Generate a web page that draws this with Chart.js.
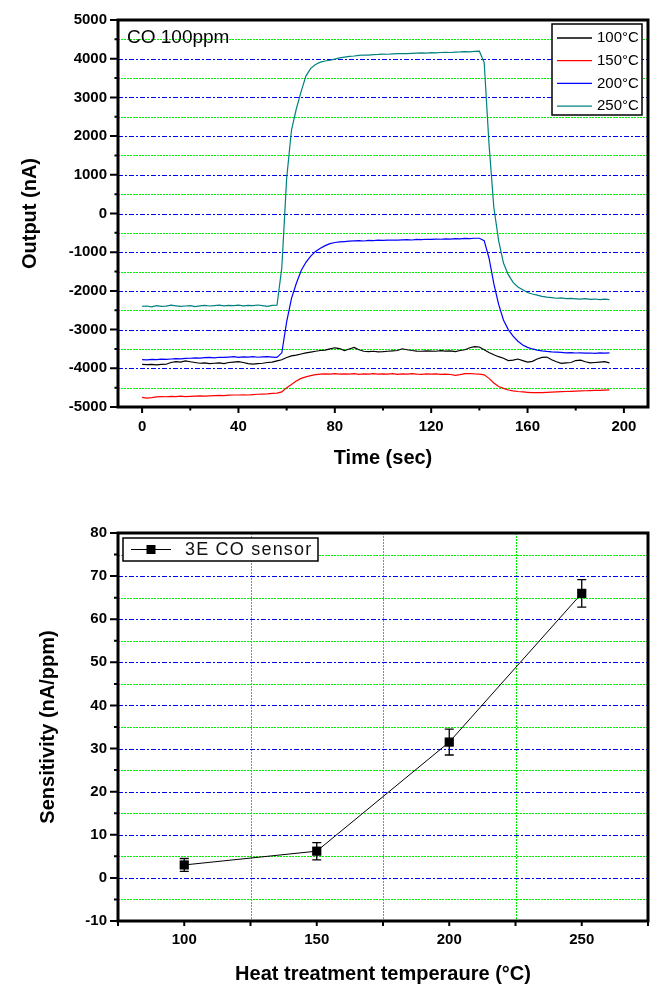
<!DOCTYPE html>
<html>
<head>
<meta charset="utf-8">
<script src="https://cdn.jsdelivr.net/npm/chart.js@4.4.0/dist/chart.umd.min.js"></script>
<style>
  body { margin: 0; background: #fff; }
  #outputChart { position: absolute; left: 0; top: 0; }
  #sensChart { position: absolute; left: 0; top: 500px; }
</style>
</head>
<body>
<canvas id="outputChart" width="663" height="490"></canvas>
<canvas id="sensChart" width="663" height="503"></canvas>
<script>
// ---- top chart: sensor output vs time ----
const times = [
  0, 2, 4, 6, 8, 10, 12, 14, 16, 18,
  20, 22, 24, 26, 28, 30, 32, 34, 36, 38,
  40, 42, 44, 46, 48, 50, 52, 54, 56, 58,
  60, 62, 64, 66, 68, 70, 72, 74, 76, 78,
  80, 82, 84, 86, 88, 90, 92, 94, 96, 98,
  100, 102, 104, 106, 108, 110, 112, 114, 116, 118,
  120, 122, 124, 126, 128, 130, 132, 134, 136, 138,
  140, 142, 144, 146, 148, 150, 152, 154, 156, 158,
  160, 162, 164, 166, 168, 170, 172, 174, 176, 178,
  180, 182, 184, 186, 188, 190, 192, 194,
];
const out100 = [
  -3900, -3905, -3900, -3910, -3900, -3895, -3850, -3830, -3840, -3810,
  -3830, -3850, -3870, -3860, -3880, -3870, -3860, -3880, -3850, -3840,
  -3830, -3850, -3880, -3890, -3880, -3870, -3850, -3840, -3810, -3780,
  -3720, -3680, -3660, -3630, -3600, -3580, -3560, -3540, -3530, -3500,
  -3470, -3490, -3540, -3500, -3460, -3520, -3560, -3570, -3560, -3575,
  -3570, -3560, -3550, -3540, -3495, -3520, -3540, -3555, -3560, -3550,
  -3555, -3560, -3545, -3555, -3550, -3570, -3540, -3520, -3470, -3440,
  -3450, -3520, -3590, -3650, -3700, -3740, -3800, -3790, -3760, -3800,
  -3840, -3820, -3760, -3720, -3710, -3780, -3830, -3870, -3860, -3850,
  -3800, -3790, -3830, -3860, -3850, -3840, -3830, -3860,
];
const out150 = [
  -4750, -4770, -4760, -4740, -4730, -4735, -4725, -4730, -4720, -4730,
  -4725, -4720, -4715, -4720, -4710, -4705, -4700, -4705, -4695, -4690,
  -4690, -4685, -4690, -4680, -4670, -4665, -4660, -4650, -4640, -4610,
  -4500, -4420, -4330, -4260, -4220, -4190, -4165, -4150, -4145, -4150,
  -4140, -4150, -4145, -4150, -4140, -4155, -4145, -4150, -4140, -4150,
  -4145, -4150, -4140, -4155, -4145, -4150, -4140, -4150, -4155, -4145,
  -4150, -4145, -4155, -4150, -4160, -4185, -4165, -4140, -4135, -4145,
  -4150, -4170, -4260, -4380, -4470, -4520, -4560, -4585, -4600, -4610,
  -4620, -4630, -4625, -4630, -4620, -4615, -4610, -4605, -4600, -4595,
  -4590, -4585, -4580, -4575, -4570, -4570, -4565, -4560,
];
const out200 = [
  -3775, -3780, -3770, -3775, -3765, -3770, -3760, -3750, -3755, -3745,
  -3740, -3730, -3735, -3725, -3720, -3730, -3715, -3720, -3710, -3700,
  -3720, -3705, -3710, -3700, -3715, -3705, -3700, -3710, -3720, -3600,
  -2800, -2200, -1810, -1480, -1260, -1100, -980, -900, -830, -780,
  -750, -735, -725, -715, -705, -700, -710, -695, -700, -690,
  -695, -690, -685, -690, -680, -675, -685, -670, -675, -665,
  -670, -660, -665, -655, -660, -650, -655, -645, -650, -640,
  -640, -700, -1150, -1810, -2350, -2750, -3000, -3170, -3300, -3400,
  -3460, -3500, -3530, -3550, -3565, -3575, -3580, -3590, -3600, -3595,
  -3605, -3600, -3610, -3605, -3615, -3600, -3610, -3600,
];
const out250 = [
  -2400, -2390, -2410, -2380, -2400, -2395, -2370, -2385, -2400, -2390,
  -2380, -2405, -2385, -2375, -2390, -2380, -2370, -2385, -2375, -2380,
  -2370, -2385, -2375, -2380, -2365, -2380, -2400, -2375, -2370, -1400,
  900, 2150, 2700, 3150, 3550, 3750, 3850, 3910, 3940, 3960,
  3990, 4020, 4040, 4060, 4070, 4085, 4095, 4090, 4105, 4110,
  4120, 4115, 4125, 4130, 4135, 4130, 4140, 4145, 4150, 4145,
  4155, 4150, 4160, 4165, 4160, 4170, 4175, 4185, 4175, 4190,
  4195, 3900, 1800, 160, -700, -1280, -1580, -1780, -1900, -1970,
  -2040, -2080, -2110, -2140, -2160, -2175, -2190, -2180, -2200, -2195,
  -2205, -2215, -2200, -2220, -2210, -2225, -2215, -2225,
];
const seriesLabels = ["100\u00B0C", "150\u00B0C", "200\u00B0C", "250\u00B0C"];
const seriesColors = ["#000000", "#ff0000", "#0000ff", "#008080"];
const timeTicks = [0, 40, 80, 120, 160, 200];
const timeMinorTicks = [20, 60, 100, 140, 180];
const outputMajor = [-5000, -4000, -3000, -2000, -1000, 0, 1000, 2000, 3000, 4000, 5000];
const outputMinor = [-4500, -3500, -2500, -1500, -500, 500, 1500, 2500, 3500, 4500];

// ---- bottom chart: sensitivity vs heat treatment temperature ----
const temps = [100, 150, 200, 250];
const sensitivity = [3.0, 6.2, 31.5, 66.0];
const sensErr = [1.5, 2.0, 3.0, 3.2];
const tempTicks = [100, 150, 200, 250];
const tempMinorTicks = [75, 125, 175, 225, 275];
const tempGrid = [125, 175, 225];
const sensMajor = [-10, 0, 10, 20, 30, 40, 50, 60, 70, 80];
const sensMinor = [-5, 5, 15, 25, 35, 45, 55, 65, 75];

Chart.defaults.font.family = "'Liberation Sans', Arial, sans-serif";
Chart.defaults.color = "#000";

const hLine = (ctx, a, py) => {
  const yy = Math.round(py) + 0.5;
  ctx.beginPath();
  ctx.moveTo(a.left, yy);
  ctx.lineTo(a.right, yy);
  ctx.stroke();
};
const vLine = (ctx, a, px) => {
  const xx = Math.round(px) + 0.5;
  ctx.beginPath();
  ctx.moveTo(xx, a.top);
  ctx.lineTo(xx, a.bottom);
  ctx.stroke();
};

// grid lines, frame and tick marks (major + minor)
const deco = {
  id: "deco",
  beforeDatasetsDraw(chart, args, o) {
    const { ctx, chartArea: a, scales: { x, y } } = chart;
    ctx.save();
    ctx.lineWidth = 1;
    ctx.strokeStyle = "#00ee00";
    ctx.setLineDash([2, 1]);
    o.yMinor.forEach((v) => hLine(ctx, a, y.getPixelForValue(v)));
    o.xGrid.forEach((v) => vLine(ctx, a, x.getPixelForValue(v)));
    ctx.strokeStyle = "#0000ff";
    ctx.setLineDash([5, 2, 2, 2]);
    o.yMajor.forEach((v) => hLine(ctx, a, y.getPixelForValue(v)));
    ctx.restore();
  },
  afterDatasetsDraw(chart, args, o) {
    const { ctx, chartArea: a, scales: { x, y } } = chart;
    ctx.save();
    ctx.strokeStyle = "#000";
    ctx.lineWidth = 2;
    ctx.beginPath();
    o.yMajor.forEach((v) => {
      const p = y.getPixelForValue(v);
      ctx.moveTo(a.left - o.yTick[0], p);
      ctx.lineTo(a.left, p);
    });
    o.yMinor.forEach((v) => {
      const p = y.getPixelForValue(v);
      ctx.moveTo(a.left - o.yTick[1], p);
      ctx.lineTo(a.left, p);
    });
    o.xMajor.forEach((v) => {
      const p = x.getPixelForValue(v);
      ctx.moveTo(p, a.bottom);
      ctx.lineTo(p, a.bottom + o.xTick[0]);
    });
    o.xMinor.forEach((v) => {
      const p = x.getPixelForValue(v);
      ctx.moveTo(p, a.bottom);
      ctx.lineTo(p, a.bottom + o.xTick[1]);
    });
    ctx.stroke();
    ctx.lineWidth = 3;
    ctx.strokeRect(a.left, a.top, a.right - a.left, a.bottom - a.top);
    ctx.restore();
  },
};

const outputLegend = {
  id: "outputLegend",
  afterDraw(chart) {
    const { ctx, chartArea: a } = chart;
    const bx = a.right - 96, by = a.top + 4, bw = 90, bh = 91;
    ctx.save();
    ctx.fillStyle = "#fff";
    ctx.fillRect(bx, by, bw, bh);
    ctx.strokeStyle = "#000";
    ctx.lineWidth = 1.5;
    ctx.strokeRect(bx, by, bw, bh);
    ctx.font = "15px 'Liberation Sans', Arial, sans-serif";
    ctx.textBaseline = "middle";
    chart.data.datasets.forEach((ds, i) => {
      const ry = by + 14 + i * 22.7;
      ctx.strokeStyle = ds.borderColor;
      ctx.lineWidth = 1.3;
      ctx.beginPath();
      ctx.moveTo(bx + 5, ry);
      ctx.lineTo(bx + 40, ry);
      ctx.stroke();
      ctx.fillStyle = "#000";
      ctx.fillText(ds.label, bx + 45, ry);
    });
    ctx.font = "19px 'Liberation Sans', Arial, sans-serif";
    ctx.fillText("CO 100ppm", a.left + 9, a.top + 18);
    ctx.restore();
  },
};

const sensExtras = {
  id: "sensExtras",
  afterDatasetsDraw(chart) {
    const { ctx, chartArea: a, scales: { x, y } } = chart;
    ctx.save();
    ctx.strokeStyle = "#000";
    ctx.lineWidth = 1.3;
    ctx.beginPath();
    temps.forEach((t, i) => {
      const px = x.getPixelForValue(t);
      const top = y.getPixelForValue(sensitivity[i] + sensErr[i]);
      const bot = y.getPixelForValue(sensitivity[i] - sensErr[i]);
      ctx.moveTo(px, top);
      ctx.lineTo(px, bot);
      ctx.moveTo(px - 4.5, top);
      ctx.lineTo(px + 4.5, top);
      ctx.moveTo(px - 4.5, bot);
      ctx.lineTo(px + 4.5, bot);
    });
    ctx.stroke();
    // legend
    const bx = a.left + 5, by = a.top + 5, bw = 195, bh = 23;
    ctx.fillStyle = "#fff";
    ctx.fillRect(bx, by, bw, bh);
    ctx.lineWidth = 1.5;
    ctx.strokeRect(bx, by, bw, bh);
    const cy = by + bh / 2;
    ctx.lineWidth = 1;
    ctx.beginPath();
    ctx.moveTo(bx + 8, cy);
    ctx.lineTo(bx + 48, cy);
    ctx.stroke();
    ctx.fillStyle = "#000";
    ctx.fillRect(bx + 28 - 4.5, cy - 4.5, 9, 9);
    ctx.font = "18px 'Liberation Sans', Arial, sans-serif";
    ctx.letterSpacing = "1.2px";
    ctx.textBaseline = "middle";
    ctx.fillStyle = "#111";
    ctx.fillText(chart.data.datasets[0].label, bx + 62, cy + 1);
    ctx.restore();
  },
};

const tickFont = { size: 15, weight: "bold" };
const titleFont = { size: 20, weight: "bold" };

new Chart(document.getElementById("outputChart"), {
  type: "line",
  data: {
    datasets: [out100, out150, out200, out250].map((vals, i) => ({
      label: seriesLabels[i],
      data: times.map((t, j) => ({ x: t, y: vals[j] })),
      borderColor: seriesColors[i],
      borderWidth: 1.2,
      pointRadius: 0,
      tension: 0,
    })),
  },
  options: {
    responsive: false,
    animation: false,
    layout: { padding: { top: 19, right: 15, left: 0, bottom: 0 } },
    scales: {
      x: {
        type: "linear",
        min: -10,
        max: 210,
        afterBuildTicks: (s) => { s.ticks = timeTicks.map((v) => ({ value: v })); },
        afterFit: (s) => { s.height = 83; },
        grid: { display: false, drawTicks: false },
        border: { display: false },
        ticks: { font: tickFont, padding: 11, maxRotation: 0, callback: (v) => String(v) },
        title: { display: true, text: "Time (sec)", font: titleFont, padding: { bottom: 20 } },
      },
      y: {
        min: -5000,
        max: 5000,
        afterBuildTicks: (s) => { s.ticks = outputMajor.map((v) => ({ value: v })); },
        afterFit: (s) => { s.width = 118; },
        grid: { display: false, drawTicks: false },
        border: { display: false },
        ticks: { font: tickFont, padding: 11, callback: (v) => String(v) },
        title: { display: true, text: "Output (nA)", font: titleFont, padding: { top: 18 } },
      },
    },
    plugins: {
      legend: { display: false },
      tooltip: { enabled: false },
      deco: {
        yMajor: outputMajor, yMinor: outputMinor, xGrid: [],
        xMajor: timeTicks, xMinor: timeMinorTicks,
        yTick: [8, 3.5], xTick: [6, 3.5],
      },
    },
  },
  plugins: [deco, outputLegend],
});

new Chart(document.getElementById("sensChart"), {
  type: "line",
  data: {
    datasets: [{
      label: "3E CO sensor",
      data: temps.map((t, i) => ({ x: t, y: sensitivity[i] })),
      borderColor: "#000",
      borderWidth: 1,
      pointStyle: "rect",
      pointRadius: 6.5,
      pointBackgroundColor: "#000",
      pointBorderWidth: 0,
      tension: 0,
    }],
  },
  options: {
    responsive: false,
    animation: false,
    layout: { padding: { top: 33, right: 15, left: 0, bottom: 0 } },
    scales: {
      x: {
        type: "linear",
        min: 75,
        max: 275,
        afterBuildTicks: (s) => { s.ticks = tempTicks.map((v) => ({ value: v })); },
        afterFit: (s) => { s.height = 82; },
        grid: { display: false, drawTicks: false },
        border: { display: false },
        ticks: { font: tickFont, padding: 10, maxRotation: 0, callback: (v) => String(v) },
        title: { display: true, text: "Heat treatment temperaure (\u00B0C)", font: titleFont, padding: { bottom: 17 } },
      },
      y: {
        min: -10,
        max: 80,
        afterBuildTicks: (s) => { s.ticks = sensMajor.map((v) => ({ value: v })); },
        afterFit: (s) => { s.width = 118; },
        grid: { display: false, drawTicks: false },
        border: { display: false },
        ticks: { font: tickFont, padding: 11, callback: (v) => String(v) },
        title: { display: true, text: "Sensitivity (nA/ppm)", font: titleFont, padding: { top: 36 } },
      },
    },
    plugins: {
      legend: { display: false },
      tooltip: { enabled: false },
      deco: {
        yMajor: sensMajor, yMinor: sensMinor, xGrid: tempGrid,
        xMajor: tempTicks, xMinor: tempMinorTicks,
        yTick: [8, 4], xTick: [5, 5],
      },
    },
  },
  plugins: [deco, sensExtras],
});
</script>
</body>
</html>
